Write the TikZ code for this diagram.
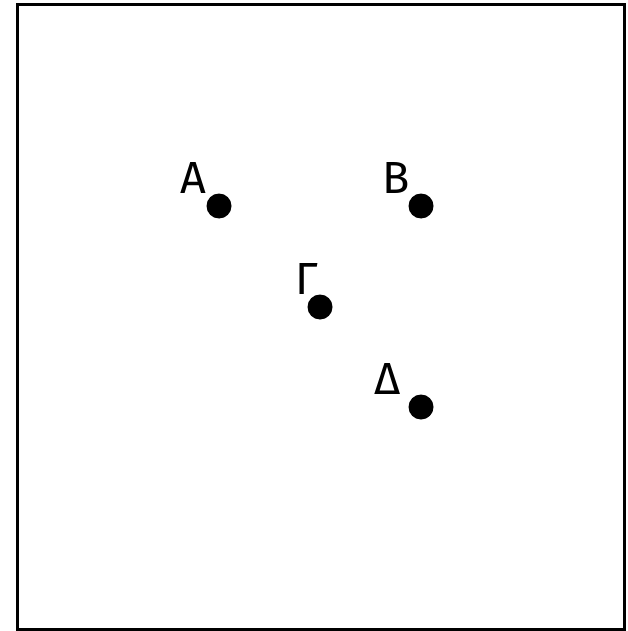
\documentclass[tikz,border=0pt]{standalone}
\usepackage{fontspec}
\setmainfont{Fira Sans}
\usetikzlibrary{positioning}

\tikzset{
  pt/.style={circle, fill=black, inner sep=0pt, minimum size=25pt},
  ptlabel/.style={font=\fontsize{45}{45}\selectfont, inner sep=0pt}
}

\begin{document}
\begin{tikzpicture}[x=1pt, y=-1pt]
  \useasboundingbox (0,0) rectangle (628,631);
  \draw[line width=3pt] (17.5,4.5) rectangle (624.5,629.5);
  % points
  \node[pt] (a) at (219,206) {};
  \node[pt] (b) at (421,206) {};
  \node[pt] (g) at (320,307) {};
  \node[pt] (d) at (421,407) {};
  % labels
  \node[ptlabel] (la) at (193,178) {A};
  \node[ptlabel] (lb) at (396,178) {B};
  \node[ptlabel] (lg) at (307,279) {Γ};
  \node[ptlabel] (ld) at (388,379) {Δ};
\end{tikzpicture}
\end{document}
